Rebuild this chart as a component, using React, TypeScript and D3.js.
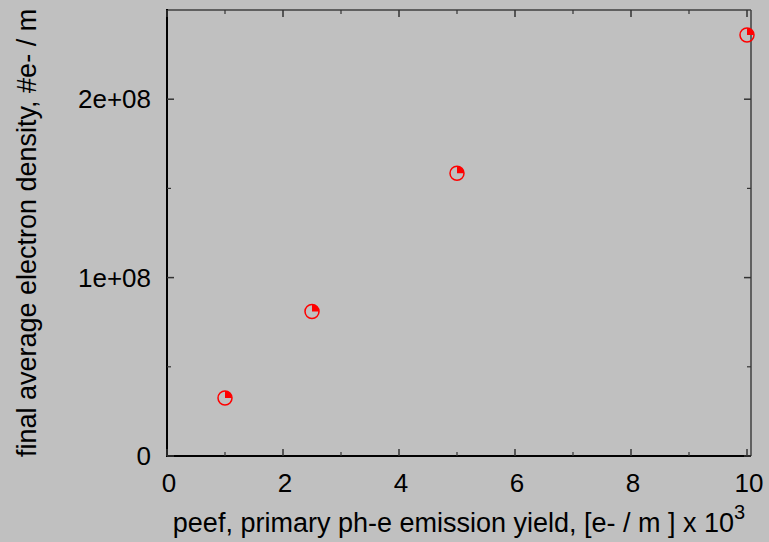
import React from "react";
import * as d3 from "d3";

// Primary photo-electron emission yield (x 10^3 e-/m) vs. final average electron density (#e-/m)
const yieldValues: number[] = [1, 2.5, 5, 10];
const densityValues: number[] = [3.25e7, 8.1e7, 1.585e8, 2.36e8];

const xTicks: number[] = [0, 2, 4, 6, 8, 10];
const xMinorTicks: number[] = [1, 3, 5, 7, 9];
const yTicks: number[] = [0, 1e8, 2e8];
const yTickLabels: string[] = ["0", "1e+08", "2e+08"];
const yMinorTicks: number[] = [5e7, 1.5e8];

const W = 769;
const H = 542;
const left = 167;
const right = 751;
const top = 10;
const bottom = 456;

export default function App() {
  const x = d3.scaleLinear().domain([0, 10]).range([left, 747]);
  const y = d3.scaleLinear().domain([0, 2.5e8]).range([bottom, top]);
  const font = "'Liberation Sans', Arial, sans-serif";
  const fs = 26;
  const titleFs = 27;
  const r = 7;
  // quarter-disc wedge in the upper-right of each marker
  const wedge = d3.arc()({
    innerRadius: 0,
    outerRadius: r,
    startAngle: 0,
    endAngle: Math.PI / 2,
  }) as string;

  return (
    <svg
      width={W}
      height={H}
      style={{ position: "fixed", left: 0, top: 0, display: "block" }}
    >
      <rect x={0} y={0} width={W} height={H} fill="#c0c0c0" />

      {/* frame */}
      <line x1={left} y1={top} x2={right} y2={top} stroke="#404040" strokeWidth={1.5} />
      <line x1={right} y1={top} x2={right} y2={bottom} stroke="#404040" strokeWidth={1.5} />
      <line x1={left} y1={top - 1} x2={left} y2={bottom} stroke="#000" strokeWidth={2} />
      <line x1={left - 1} y1={bottom} x2={right} y2={bottom} stroke="#000" strokeWidth={2} />

      {/* x ticks */}
      {xTicks.map((t) => (
        <g key={"xt" + t}>
          <line x1={x(t)} x2={x(t)} y1={bottom} y2={bottom - 7} stroke="#333" strokeWidth={1.5} />
          <line x1={x(t)} x2={x(t)} y1={top} y2={top + 7} stroke="#333" strokeWidth={1.5} />
          <text x={x(t) + 2} y={492} textAnchor="middle" fontFamily={font} fontSize={fs} fill="#000">
            {t}
          </text>
        </g>
      ))}
      {xMinorTicks.map((t) => (
        <g key={"xm" + t}>
          <line x1={x(t)} x2={x(t)} y1={bottom} y2={bottom - 4} stroke="#333" strokeWidth={1.2} />
          <line x1={x(t)} x2={x(t)} y1={top} y2={top + 4} stroke="#333" strokeWidth={1.2} />
        </g>
      ))}

      {/* y ticks */}
      {yTicks.map((t, i) => (
        <g key={"yt" + t}>
          <line x1={left} x2={left + 7} y1={y(t)} y2={y(t)} stroke="#333" strokeWidth={1.5} />
          <line x1={right} x2={right - 7} y1={y(t)} y2={y(t)} stroke="#333" strokeWidth={1.5} />
          <text x={151} y={y(t) + 9} textAnchor="end" fontFamily={font} fontSize={fs} fill="#000">
            {yTickLabels[i]}
          </text>
        </g>
      ))}
      {yMinorTicks.map((t) => (
        <g key={"ym" + t}>
          <line x1={left} x2={left + 4} y1={y(t)} y2={y(t)} stroke="#333" strokeWidth={1.2} />
          <line x1={right} x2={right - 4} y1={y(t)} y2={y(t)} stroke="#333" strokeWidth={1.2} />
        </g>
      ))}

      {/* data markers */}
      {yieldValues.map((v, i) => {
        const cx = x(v);
        const cy = y(densityValues[i]);
        return (
          <g key={"p" + i} transform={`translate(${cx},${cy})`}>
            <circle r={r} fill="none" stroke="#ff0000" strokeWidth={1.5} />
            <path d={wedge} fill="#ff0000" />
          </g>
        );
      })}

      {/* axis titles */}
      <text x={459} y={532} textAnchor="middle" fontFamily={font} fontSize={titleFs} fill="#000">
        peef, primary ph-e emission yield, [e- / m ] x 10
        <tspan dy={-13} fontSize={20}>3</tspan>
      </text>
      <text
        transform={`translate(36, 233) rotate(-90)`}
        textAnchor="middle"
        fontFamily={font}
        fontSize={titleFs}
        fill="#000"
      >
        final average electron density, #e- / m
      </text>
    </svg>
  );
}
